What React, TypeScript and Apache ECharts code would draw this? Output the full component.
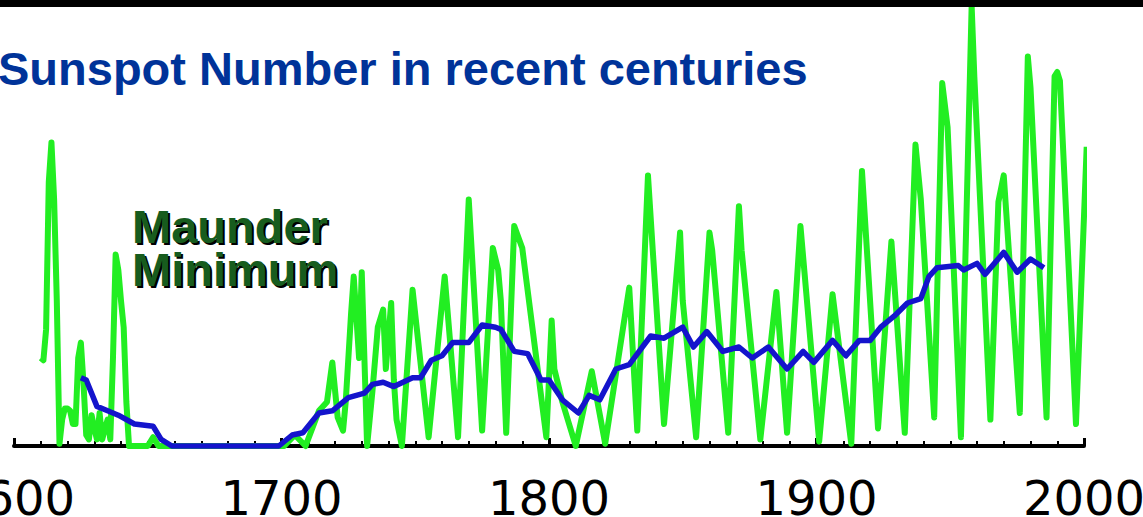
import React, { useEffect, useRef } from "react";
import * as echarts from "echarts";

const titleText = "Sunspot Number in recent centuries";
const annotationLines = ["Maunder", "Minimum"];
const xMin = 1600;
const xMax = 2000;
const xInterval = 100;

// Yearly sunspot number (green)
const sunspotYears = [
  1610, 1611, 1612, 1613, 1614, 1615, 1616, 1617, 1618, 1619, 1620, 1621, 1622, 1623,
  1624, 1625, 1626, 1627, 1628, 1629, 1630, 1631, 1632, 1633, 1634, 1635, 1636, 1637,
  1638, 1639, 1640, 1641, 1642, 1643, 1650, 1652, 1654, 1701, 1705, 1709, 1714, 1717,
  1719, 1721, 1723, 1724, 1726, 1727, 1729, 1730, 1732, 1734, 1736, 1738, 1739, 1740,
  1741, 1742, 1743, 1745, 1749, 1755, 1761, 1766, 1770, 1775, 1779, 1781, 1782, 1784,
  1787, 1790, 1799, 1801, 1802, 1805, 1810, 1816, 1821, 1830, 1833, 1837, 1839, 1843,
  1849, 1850, 1855, 1860, 1861, 1867, 1871, 1872, 1879, 1885, 1889, 1894, 1901, 1906,
  1913, 1917, 1919, 1923, 1928, 1933, 1937, 1939, 1944, 1947, 1949, 1951, 1954, 1958,
  1959, 1965, 1968, 1970, 1976, 1979, 1980, 1986, 1989, 1990, 1991, 1997, 2001,
];
const sunspotValues = [
  40, 39, 53, 120, 138, 112, 66, 1, 12, 17, 17, 16, 10, 10,
  40, 47, 28, 5, 3, 14, 8, 3, 15, 3, 8, 12, 3, 40,
  87, 80, 66, 54, 20, 0, 0, 4, 0, 0, 5, 0, 16, 20,
  38, 13, 7, 20, 60, 77, 40, 79, 0, 25, 54, 62, 35, 50,
  65, 30, 12, 0, 71, 4, 77, 4, 112, 7, 90, 80, 66, 6,
  100, 90, 4, 57, 35, 20, 0, 34, 1, 72, 7, 123, 85, 10,
  97, 66, 4, 97, 89, 6, 109, 89, 3, 70, 6, 100, 2, 69,
  1, 125, 86, 8, 93, 6, 137, 112, 13, 165, 145, 89, 4, 200,
  168, 12, 111, 123, 15, 177, 163, 13, 168, 170, 166, 10, 136,
];

// Smoothed sunspot number (blue)
const smoothYears = [
  1625, 1627, 1631, 1635, 1639, 1645, 1652, 1655, 1659, 1699, 1704, 1708, 1714, 1719,
  1725, 1731, 1734, 1738, 1742, 1749, 1752, 1756, 1760, 1764, 1770, 1775, 1780, 1782,
  1787, 1792, 1797, 1800, 1805, 1811, 1815, 1819, 1825, 1830, 1838, 1843, 1850, 1854,
  1859, 1865, 1871, 1876, 1882, 1889, 1895, 1899, 1906, 1911, 1916, 1920, 1924, 1929,
  1934, 1939, 1942, 1945, 1953, 1955, 1960, 1963, 1970, 1975, 1980, 1985,
];
const smoothValues = [
  31, 30, 18, 16, 14, 10, 9, 3, 0, 0, 5, 6, 15, 16,
  22, 24, 28, 29, 27, 31, 31, 39, 41, 47, 47, 55, 54, 53,
  43, 42, 30, 30, 21, 15, 23, 21, 35, 37, 50, 49, 54, 45,
  52, 43, 45, 40, 45, 35, 43, 38, 48, 41, 48, 48, 54, 59,
  65, 67, 77, 81, 82, 80, 83, 78, 88, 79, 85, 81,
];

export default function App() {
  const ref = useRef<HTMLDivElement>(null);
  useEffect(() => {
    const chart = echarts.init(ref.current as HTMLDivElement, null, { renderer: "svg" });
    const titleFont = "bold 47px 'Liberation Sans', Arial, sans-serif";
    chart.setOption({
      animation: false,
      backgroundColor: "#ffffff",
      grid: {
        left: 14,
        right: 59,
        top: 6,
        bottom: 71,
        containLabel: false,
        outerBoundsMode: "none",
      },
      xAxis: {
        type: "value",
        min: xMin,
        max: xMax,
        interval: xInterval,
        splitLine: { show: false },
        axisLine: { show: true, onZero: false, lineStyle: { color: "#000", width: 4 } },
        axisTick: { show: true, inside: true, length: 8, lineStyle: { color: "#000", width: 3 } },
        minorTick: { show: true, splitNumber: 10, length: 5, lineStyle: { color: "#000", width: 2 } },
        axisLabel: {
          show: true,
          margin: 28,
          fontFamily: "DejaVu Sans",
          fontSize: 48,
          color: "#000",
          showMinLabel: true,
          showMaxLabel: true,
          hideOverlap: false,
          formatter: (v: number) => String(v),
        },
      },
      yAxis: { type: "value", min: 0, max: 200, show: false },
      series: [
        {
          type: "line",
          data: sunspotYears.map((y, i) => [y, sunspotValues[i]]),
          symbol: "none",
          showSymbol: false,
          clip: false,
          z: 3,
          lineStyle: { color: "#22ee22", width: 6, join: "round" },
        },
        {
          type: "line",
          data: smoothYears.map((y, i) => [y, smoothValues[i]]),
          symbol: "none",
          showSymbol: false,
          clip: false,
          z: 4,
          lineStyle: { color: "#1414cc", width: 5.5, join: "round" },
        },
      ],
      graphic: [
        {
          type: "rect",
          shape: { x: 0, y: 0, width: 1143, height: 7 },
          style: { fill: "#000" },
          z: 100,
        },
        {
          type: "text",
          x: -2,
          y: 68,
          z: 100,
          style: {
            text: titleText,
            font: titleFont,
            fill: "#003399",
            textAlign: "left",
            textVerticalAlign: "middle",
          },
        },
        ...annotationLines.flatMap((t, i) => [
          {
            type: "text",
            x: 134,
            y: 228 + i * 43,
            z: 100,
            style: {
              text: t,
              font: titleFont,
              fill: "#000",
              textAlign: "left",
              textVerticalAlign: "middle",
            },
          },
          {
            type: "text",
            x: 132,
            y: 226 + i * 43,
            z: 101,
            style: {
              text: t,
              font: titleFont,
              fill: "#175c1e",
              textAlign: "left",
              textVerticalAlign: "middle",
            },
          },
        ]),
      ],
    });
    return () => chart.dispose();
  }, []);
  return (
    <div
      ref={ref}
      style={{ position: "fixed", left: 0, top: 0, width: 1143, height: 517 }}
    />
  );
}
